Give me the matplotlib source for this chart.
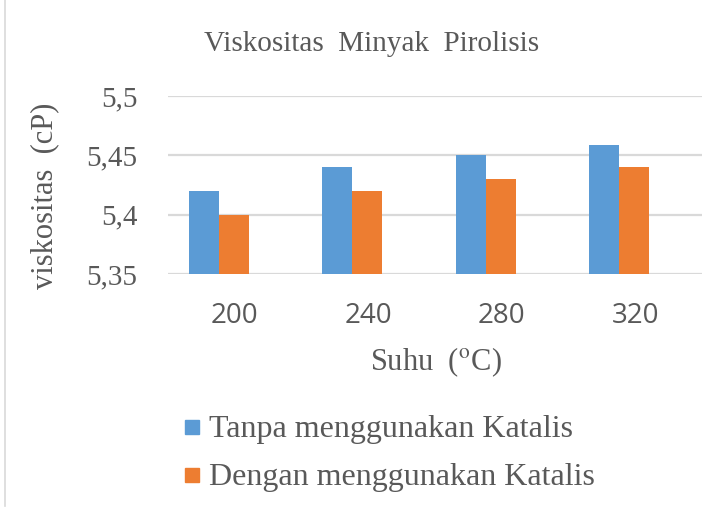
import matplotlib
matplotlib.use("Agg")
import matplotlib.pyplot as plt
from matplotlib.lines import Line2D
from matplotlib.patches import Rectangle
import numpy as np

plt.rcParams["mathtext.fontset"] = "stix"

suhu = ["200", "240", "280", "320"]
tanpa = [5.42, 5.44, 5.45, 5.459]
dengan = [5.40, 5.42, 5.43, 5.44]
labels = ["Tanpa menggunakan Katalis", "Dengan menggunakan Katalis"]
yticks = [5.35, 5.4, 5.45, 5.5]
yticklabels = ["5,35", "5,4", "5,45", "5,5"]

BLUE, ORANGE, GREY, TXT = "#5B9BD5", "#ED7D31", "#D9D9D9", "#595959"
SERIF = ["Liberation Serif", "DejaVu Serif"]
W, H = 723, 522

fig = plt.figure(figsize=(7.23, 5.22), dpi=100)
ax = fig.add_axes([168 / W, 1 - 274 / H, 534 / W, 178 / H])

x = np.arange(len(suhu))
w = 0.225
shift = -0.12  # bar groups sit a little left of the category centre
ax.bar(x + shift - w / 2, [v - 5.35 for v in tanpa], w, bottom=5.35, color=BLUE, zorder=3)
ax.bar(x + shift + w / 2, [v - 5.35 for v in dengan], w, bottom=5.35, color=ORANGE, zorder=3)

ax.set_xlim(-0.5, 3.5)
ax.set_ylim(5.35, 5.5)
ax.set_yticks(yticks)
ax.set_yticklabels(yticklabels, family=SERIF, fontsize=21, color=TXT)
ax.set_xticks(x)
ax.set_xticklabels(suhu, family=["Open Sans", "DejaVu Sans"], fontsize=20, color=TXT)
ax.tick_params(length=0)
ax.tick_params(axis="x", pad=20)
ax.tick_params(axis="y", pad=22)
ax.grid(axis="y", color=GREY, lw=1.6, zorder=0)
for s in ax.spines.values():
    s.set_visible(False)

fig.text(372 / W, 1 - 44 / H, "Viskositas  Minyak  Pirolisis", family=SERIF,
         fontsize=21, color=TXT, ha="center", va="center")
fig.text(436 / W, 1 - 362 / H, r"Suhu  ($^{\mathrm{o}}$C)", family=SERIF,
         fontsize=22, color=TXT, ha="center", va="center")
fig.text(45 / W, 1 - 196 / H, "viskositas  (cP)", family=SERIF,
         fontsize=22, color=TXT, ha="center", va="center", rotation=90)

# legend drawn by hand: small squares + labels
for i, (lab, col) in enumerate(zip(labels, [BLUE, ORANGE])):
    yc = 427 + 48 * i
    fig.add_artist(Rectangle((185 / W, 1 - (yc + 7) / H), 14 / W, 14 / H,
                             transform=fig.transFigure, color=col))
    fig.text(209 / W, 1 - (yc + 3) / H, lab, family=SERIF, fontsize=23,
             color=TXT, ha="left", va="center")

fig.add_artist(Line2D([5 / W, 5 / W], [0.03, 1], color=GREY, lw=1.2))

fig.savefig("out.png", dpi=100)
